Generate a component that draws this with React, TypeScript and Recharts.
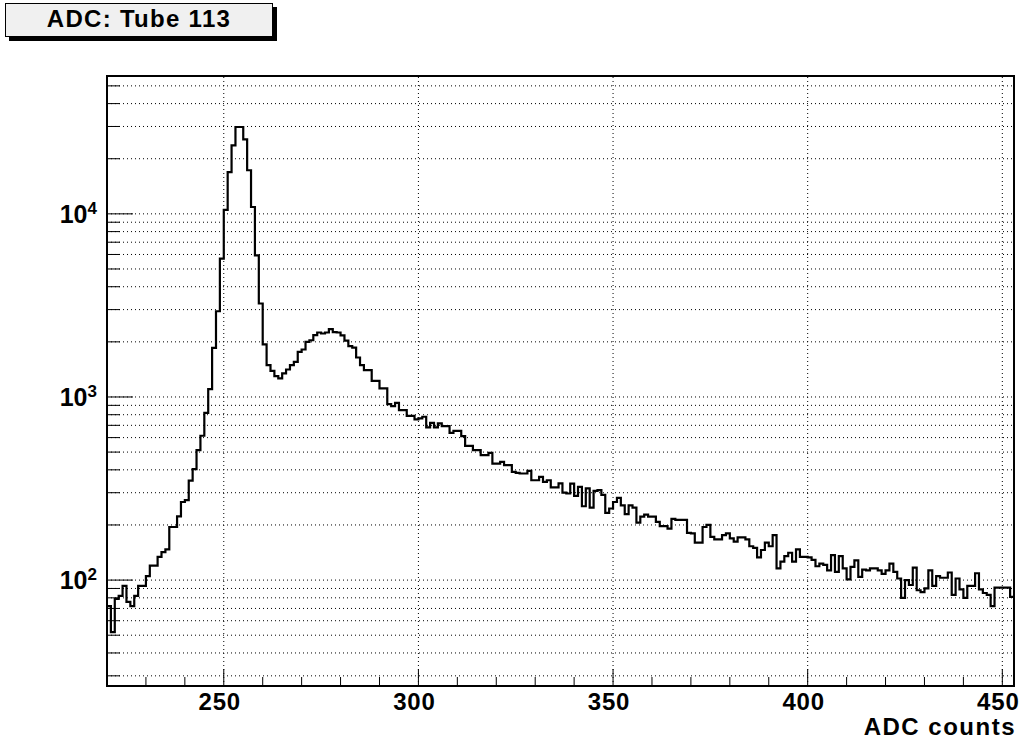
import React from 'react';
import { LineChart, Line, XAxis, YAxis, ReferenceLine, ReferenceArea } from 'recharts';

// Histogram "ADC: Tube 113", 1 ADC count per bin, first bin starts at 220
const BIN_START = 220;
const BIN_END = 453;

// counts per bin (log scale)
const countsRise = [
  72, 52, 79, 82, 93, 76, 72, 82, 93, 93, 105, 120, 120, 134, 142, 147, 195, 195, 223, 267,
  273, 349, 404, 513, 614, 819, 1104, 1855, 2938,
];
const countsPeak = [5700, 10500, 16900, 23650, 29800, 29800, 25500, 17300, 10900, 5940, 3240];
const countsBump = [
  1936, 1493, 1390, 1300, 1263, 1344, 1413, 1493, 1556, 1763, 1817, 2000, 2040, 2175, 2250,
  2221, 2250, 2345, 2260, 2250, 2170, 2030,
];
const countsFall = [
  1893, 1862, 1643, 1493, 1401, 1401, 1224, 1224, 1113, 1113, 914, 891, 929, 847, 847, 788,
  788, 754, 764, 780, 682, 722, 682, 717, 693, 693, 637, 653, 653, 611, 541, 541, 513, 513,
  481, 481, 495, 433, 433, 442, 424, 424, 390, 385, 382, 382, 395, 351, 351, 366, 344, 351,
  321, 321, 337, 300, 297, 336, 288,
];
const countsTail = [
  323, 253, 317, 249, 307, 310, 292, 233, 246, 267, 281, 256, 229, 256, 249, 206, 222, 228,
  222, 222, 208, 197, 197, 191, 216, 213, 213, 213, 181, 180, 160, 160, 195, 200, 172, 167,
  167, 176, 180, 169, 162, 171, 171, 167, 153, 150, 133, 146, 160, 153, 176, 116, 126, 135,
  141, 126, 147, 134, 134,
];
const countsEnd = [
  133, 129, 119, 123, 121, 113, 137, 111, 135, 116, 101, 118, 128, 104, 114, 113, 116, 116,
  113, 108, 113, 123, 111, 102, 80, 100, 94, 117, 88, 86, 90, 113, 93, 105, 103, 103, 110,
  83, 102, 89, 80, 93, 93, 109, 89, 85, 83, 72, 91, 91, 91, 91, 81,
];

const counts = [...countsRise, ...countsPeak, ...countsBump, ...countsFall, ...countsTail, ...countsEnd];

const xMajorTicks = [250, 300, 350, 400, 450];
const xTicks = [
  230, 240, 250, 260, 270, 280, 290, 300, 310, 320, 330, 340, 350, 360, 370, 380, 390, 400,
  410, 420, 430, 440, 450,
];
const yDecades = [100, 1000, 10000];
const yTicks = [
  30, 40, 50, 60, 70, 80, 90, 100, 200, 300, 400, 500, 600, 700, 800, 900, 1000, 2000, 3000,
  4000, 5000, 6000, 7000, 8000, 9000, 10000, 20000, 30000, 40000, 50000,
];
const Y_MIN = 26.4;
const Y_MAX = 56600;

const W = 1026;
const H = 747;
const PLOT_LEFT = 107;
const PLOT_TOP = 76;
const PLOT_BOTTOM = 686;
const FONT = '"Liberation Sans", Arial, Helvetica, sans-serif';

// step line needs a closing point at the right edge of the last bin
const data = counts.map((c, i) => ({ adc: BIN_START + i, counts: c }));
data.push({ adc: BIN_START + counts.length, counts: counts[counts.length - 1] });

const XTick = (props: any) => {
  const { x, payload } = props;
  const major = xMajorTicks.includes(payload.value);
  return (
    <g>
      <line x1={x} x2={x} y1={PLOT_BOTTOM} y2={PLOT_BOTTOM - (major ? 17 : 9)} stroke="#000" strokeWidth={1} />
      {major && (
        <text x={x - 4} y={PLOT_BOTTOM + 23.5} textAnchor="middle" fontFamily={FONT} fontWeight="bold"
          fontSize={24} letterSpacing={0.8} fill="#000">
          {payload.value}
        </text>
      )}
    </g>
  );
};

const YTick = (props: any) => {
  const { y, payload } = props;
  const major = yDecades.includes(payload.value);
  return (
    <g>
      <line x1={PLOT_LEFT} x2={PLOT_LEFT + (major ? 26 : 13)} y1={y} y2={y} stroke="#000" strokeWidth={1} />
      {major && (
        <text x={97} y={y + 9} textAnchor="end" fontFamily={FONT} fontWeight="bold" fontSize={25} fill="#000">
          10<tspan dy={-9} fontSize={17}>{Math.round(Math.log10(payload.value))}</tspan>
        </text>
      )}
    </g>
  );
};

const App = () => {
  return (
    <div style={{ position: 'absolute', left: 0, top: 0, width: W, height: H, background: '#fff' }}>
      <LineChart width={W} height={H} data={data} margin={{ top: PLOT_TOP, right: 12, bottom: 0, left: 0 }}>
        <XAxis
          type="number"
          dataKey="adc"
          domain={[BIN_START, BIN_END]}
          allowDataOverflow
          ticks={xTicks}
          interval={0}
          height={61}
          axisLine={false}
          tickLine={false}
          tick={<XTick />}
          label={{
            content: ({ viewBox }: any) => (
              <text x={viewBox.x + viewBox.width + 2} y={viewBox.y + 48.5} textAnchor="end" fontFamily={FONT}
                fontWeight="bold" fontSize={24} letterSpacing={1.5} fill="#000">
                ADC counts
              </text>
            ),
          }}
        />
        <YAxis
          type="number"
          scale="log"
          domain={[Y_MIN, Y_MAX]}
          allowDataOverflow
          ticks={yTicks}
          interval={0}
          width={PLOT_LEFT}
          axisLine={false}
          tickLine={false}
          tick={<YTick />}
        />

        {/* dotted grid: every log tick horizontally, major ticks vertically */}
        {yTicks.map((v) => (
          <ReferenceLine key={'gy' + v} y={v} stroke="#000" strokeWidth={1} strokeDasharray="1 3" />
        ))}
        {xMajorTicks.map((v) => (
          <ReferenceLine key={'gx' + v} x={v} stroke="#000" strokeWidth={1} strokeDasharray="1 3" />
        ))}

        <Line
          type="stepAfter"
          dataKey="counts"
          stroke="#000"
          strokeWidth={2.2}
          dot={false}
          activeDot={false}
          isAnimationActive={false}
        />

        {/* frame */}
        <ReferenceArea
          x1={BIN_START}
          x2={BIN_END}
          y1={Y_MIN}
          y2={Y_MAX}
          fill="none"
          fillOpacity={0}
          stroke="#000"
          strokeWidth={2}
          ifOverflow="visible"
        />
      </LineChart>

      <div
        style={{
          position: 'absolute',
          left: 5,
          top: 3,
          width: 268,
          height: 34,
          boxSizing: 'border-box',
          border: '1px solid #000',
          background: '#f0f0f0',
          boxShadow: '4px 4px 0 #000',
          display: 'flex',
          alignItems: 'center',
          justifyContent: 'center',
          paddingBottom: 2,
          fontFamily: FONT,
          fontWeight: 'bold',
          fontSize: 24,
          letterSpacing: 1.3,
          color: '#000',
        }}
      >
        ADC: Tube 113
      </div>
    </div>
  );
};

export default App;
